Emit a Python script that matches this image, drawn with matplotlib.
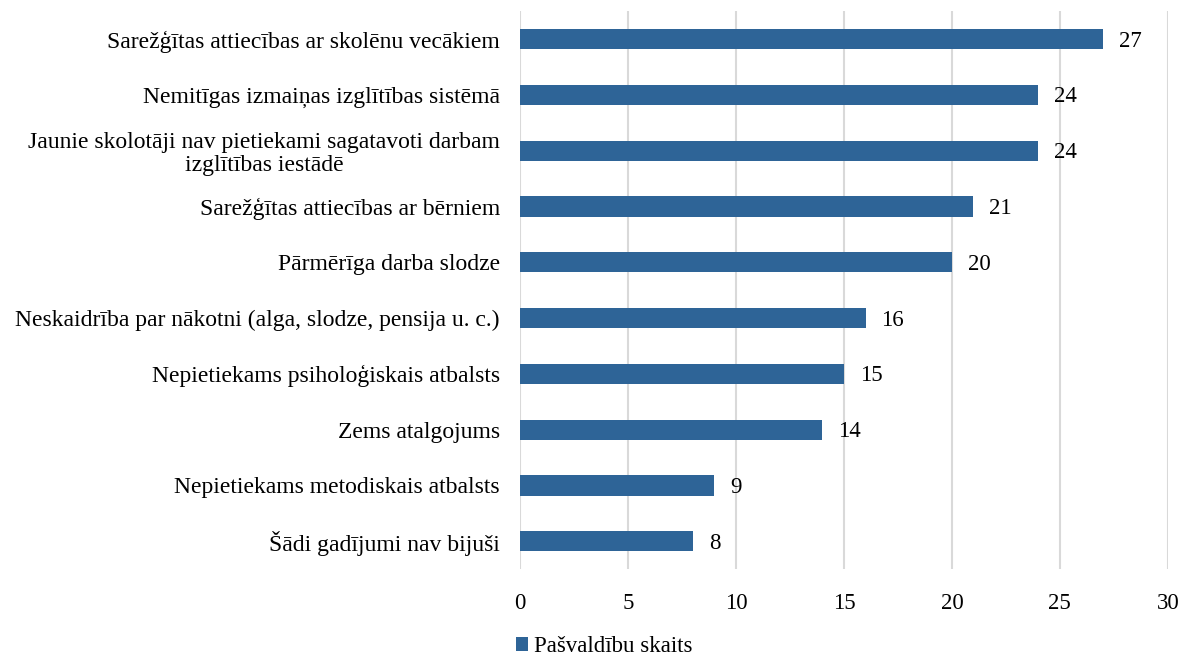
import matplotlib.pyplot as plt
import numpy as np

# Data (top to bottom as in the chart)
categories = [
    'Sarežģītas attiecības ar skolēnu vecākiem',
    'Nemitīgas izmaiņas izglītības sistēmā',
    'Jaunie skolotāji nav pietiekami sagatavoti darbam\nizglītības iestādē',
    'Sarežģītas attiecības ar bērniem',
    'Pārmērīga darba slodze',
    'Neskaidrība par nākotni (alga, slodze, pensija u. c.)',
    'Nepietiekams psiholoģiskais atbalsts',
    'Zems atalgojums',
    'Nepietiekams metodiskais atbalsts',
    'Šādi gadījumi nav bijuši',
]
values = [27, 24, 24, 21, 20, 16, 15, 14, 9, 8]
series_name = 'Pašvaldību skaits'
x_ticks = [0, 5, 10, 15, 20, 25, 30]

plt.rcParams['font.family'] = ['Liberation Serif', 'DejaVu Serif']
FS = 16.5

fig = plt.figure(figsize=(11.82, 6.58), dpi=100)
ax = fig.add_axes([0.44, 0.135, 0.548, 0.848])

y = np.arange(len(categories))
bars = ax.barh(y, values, height=0.36, color='#2E6497', label=series_name, zorder=3)

for yi, v in zip(y, values):
    ax.annotate(str(v), xy=(v, yi), xytext=(11.5, -1.5), textcoords='offset points',
                va='center', ha='left', fontsize=FS)

ax.set_yticks(y)
ax.set_yticklabels(categories, fontsize=17, linespacing=1.1)
for lbl in ax.get_yticklabels():
    lbl.set_multialignment('center')
ax.set_ylim(len(categories) - 0.5, -0.5)
ax.set_xlim(0, 30)
ax.set_xticks(x_ticks)
ax.tick_params(axis='x', labelsize=FS, length=0, pad=17)
ax.tick_params(axis='y', length=0, pad=14.5)
ax.grid(axis='x', color='#d9d9d9', linewidth=1.5, zorder=0)
for s in ax.spines.values():
    s.set_visible(False)

fig.legend(handles=[bars], labels=[series_name], loc='center left',
           bbox_to_anchor=(0.419, 0.017), frameon=False, fontsize=FS,
           handlelength=0.55, handleheight=0.55, handletextpad=0.25)

fig.savefig('out.png', dpi=100)
